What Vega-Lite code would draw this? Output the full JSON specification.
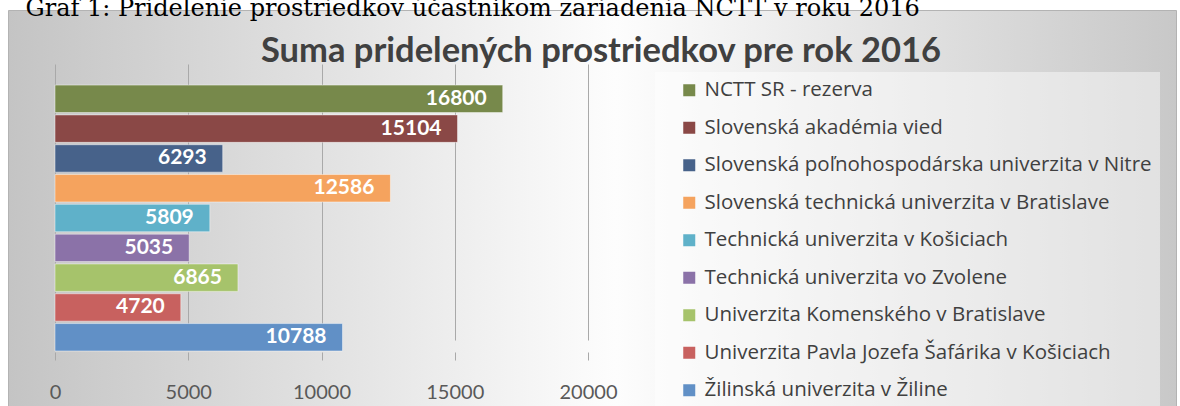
{
  "$schema": "https://vega.github.io/schema/vega-lite/v6.json",
  "width": 1168,
  "height": 396,
  "autosize": "none",
  "padding": {"left": 8, "top": 10, "right": 4, "bottom": 0},
  "background": "white",
  "view": {
    "fill": {"gradient": "linear", "x1": 0, "y1": 0, "x2": 1, "y2": 0,
      "stops": [
        {"offset": 0, "color": "#c4c4c4"},
        {"offset": 0.52, "color": "#fdfdfd"},
        {"offset": 1, "color": "#c8c8c8"}
      ]},
    "stroke": "#b3b3b3",
    "strokeWidth": 1
  },
  "config": {"font": "Lato"},
  "title": {
    "text": "Suma pridelených prostriedkov pre rok 2016",
    "anchor": "middle",
    "frame": "group",
    "orient": "top",
    "offset": -62,
    "dy": 38,
    "baseline": "alphabetic",
    "font": "Lato",
    "fontSize": 34.5,
    "fontWeight": "bold",
    "color": "#404040",
    "dx": 9
  },
  "data": {
    "values": [
      {"org": "NCTT SR - rezerva", "value": 16800},
      {"org": "Slovenská akadémia vied", "value": 15104},
      {"org": "Slovenská poľnohospodárska univerzita v Nitre", "value": 6293},
      {"org": "Slovenská technická univerzita v Bratislave", "value": 12586},
      {"org": "Technická univerzita v Košiciach", "value": 5809},
      {"org": "Technická univerzita vo Zvolene", "value": 5035},
      {"org": "Univerzita Komenského v Bratislave", "value": 6865},
      {"org": "Univerzita Pavla Jozefa Šafárika v Košiciach", "value": 4720},
      {"org": "Žilinská univerzita v Žiline", "value": 10788}
    ]
  },
  "encoding": {
    "y": {
      "field": "org", "type": "nominal", "sort": null, "axis": null,
      "scale": {"range": [66, 342], "paddingInner": 0.08, "paddingOuter": 0.17, "align": 0.9}
    },
    "x": {
      "field": "value", "type": "quantitative",
      "scale": {"domain": [0, 20000], "range": [47, 580], "nice": false, "zero": true},
      "axis": {
        "values": [0, 5000, 10000, 15000, 20000],
        "format": "d",
        "domain": false,
        "grid": true,
        "gridColor": "#a9a9a9",
        "gridWidth": 1,
        "ticks": true,
        "tickSize": 8,
        "tickColor": "#a9a9a9",
        "offset": -54,
        "labelFont": "Lato",
        "labelFontSize": 20,
        "labelColor": "#595959",
        "labelPadding": 32,
        "labelBaseline": "middle",
        "labelFlush": false,
        "labelOverlap": false,
        "title": "Graf 1: Pridelenie prostriedkov účastníkom zariadenia NCTT v roku 2016",
        "titleX": 17,
        "titleY": -337,
        "titleAlign": "left",
        "titleAnchor": "start",
        "titleBaseline": "alphabetic",
        "titleFont": "DejaVu Serif",
        "titleFontSize": 24,
        "titleFontWeight": "normal",
        "titleColor": "#000000"
      }
    }
  },
  "layer": [
    {
      "mark": {"type": "bar", "stroke": "#ffffff", "strokeOpacity": 0.45, "strokeWidth": 1},
      "encoding": {
        "color": {
          "field": "org", "type": "nominal",
          "scale": {
            "domain": ["NCTT SR - rezerva", "Slovenská akadémia vied", "Slovenská poľnohospodárska univerzita v Nitre", "Slovenská technická univerzita v Bratislave", "Technická univerzita v Košiciach", "Technická univerzita vo Zvolene", "Univerzita Komenského v Bratislave", "Univerzita Pavla Jozefa Šafárika v Košiciach", "Žilinská univerzita v Žiline"],
            "range": ["#77894b", "#8a4846", "#47628a", "#f5a35e", "#5fb1c9", "#8b72a8", "#a6c36b", "#c8615f", "#6190c6"]
          },
          "legend": {
            "orient": "none",
            "legendX": 647,
            "legendY": 62,
            "title": null,
            "padding": 8,
            "fillColor": "rgba(255,255,255,0.45)",
            "symbolType": "square",
            "symbolSize": 144,
            "symbolOffset": 16,
            "symbolStrokeWidth": 0,
            "labelOffset": 5,
            "labelFont": "Open Sans",
            "labelFontSize": 20.5,
            "labelColor": "#404040",
            "labelLimit": 700,
            "rowPadding": 16.5
          }
        }
      }
    },
    {
      "mark": {"type": "text", "align": "right", "baseline": "middle", "dx": -16, "font": "Lato", "fontSize": 21, "fontWeight": "bold", "color": "#ffffff"},
      "encoding": {
        "text": {"field": "value", "type": "quantitative", "format": "d"}
      }
    }
  ]
}
